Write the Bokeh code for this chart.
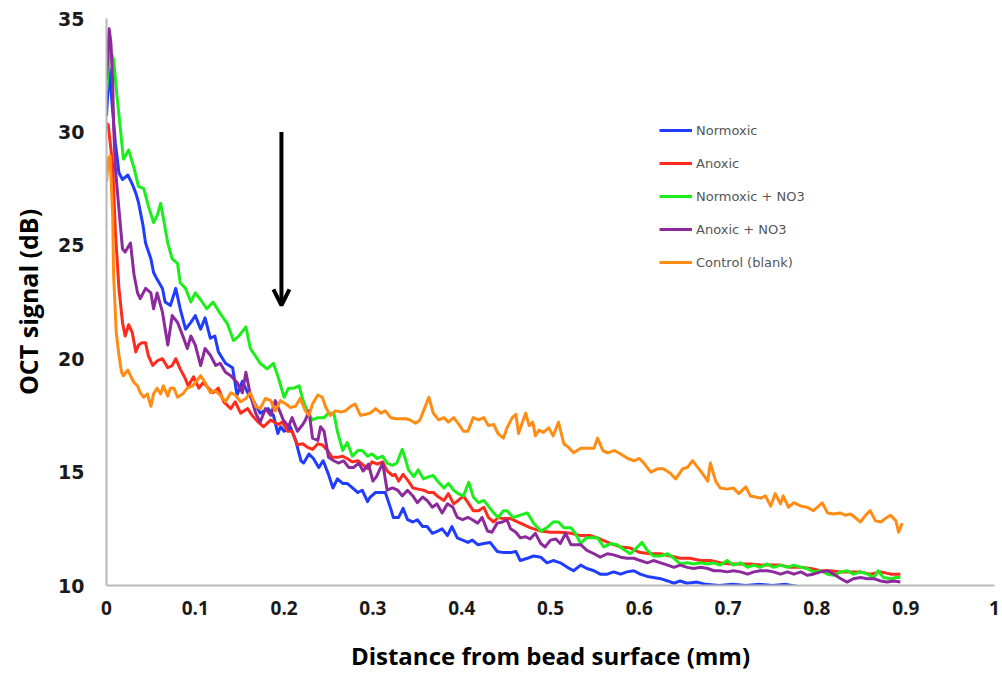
from bokeh.plotting import figure
from bokeh.models import Range1d, FixedTicker, Arrow, OpenHead, Legend, LegendItem
from bokeh.embed import file_html
from bokeh.resources import INLINE

# ---------------- data ----------------
x_ticks = [0, 0.1, 0.2, 0.3, 0.4, 0.5, 0.6, 0.7, 0.8, 0.9, 1.0]
x_tick_labels = ["0", "0.1", "0.2", "0.3", "0.4", "0.5", "0.6", "0.7", "0.8", "0.9", "1"]
y_ticks = [10, 15, 20, 25, 30, 35]

series_names = ["Normoxic", "Anoxic", "Normoxic + NO3", "Anoxic + NO3", "Control (blank)"]

normoxic_x = [0.000, 0.003, 0.010, 0.014, 0.018, 0.024, 0.029, 0.033, 0.036, 0.041, 0.044, 0.050,
              0.053, 0.057, 0.063, 0.066, 0.072, 0.078, 0.083, 0.089, 0.095, 0.100, 0.106, 0.111,
              0.117, 0.122, 0.126, 0.134, 0.142, 0.147, 0.153, 0.159, 0.166, 0.173, 0.182, 0.188,
              0.193, 0.196, 0.200, 0.207, 0.213, 0.219, 0.222, 0.228, 0.233, 0.239, 0.244, 0.250,
              0.255, 0.260, 0.266, 0.271, 0.277, 0.283, 0.288, 0.294, 0.297, 0.303, 0.309, 0.314,
              0.320, 0.323, 0.329, 0.334, 0.339, 0.345, 0.350, 0.356, 0.361, 0.367, 0.373, 0.378,
              0.384, 0.389, 0.395, 0.401, 0.407, 0.412, 0.418, 0.425, 0.432, 0.440, 0.447, 0.455,
              0.461, 0.466, 0.474, 0.481, 0.489, 0.496, 0.503, 0.511, 0.519, 0.526, 0.534, 0.541,
              0.549, 0.556, 0.564, 0.571, 0.579, 0.586, 0.594, 0.601, 0.609, 0.616, 0.624, 0.632,
              0.639, 0.646, 0.654, 0.665, 0.675, 0.690, 0.705, 0.720, 0.735, 0.750, 0.765, 0.780,
              0.800, 0.830, 0.860, 0.895]
normoxic_y = [30.7, 32.8, 29.5, 28.2, 27.9, 28.1, 27.7, 27.3, 26.9, 25.9, 25.1, 24.4,
              23.8, 23.5, 23.1, 22.5, 22.35, 23.1, 22.2, 21.3, 21.6, 21.9, 21.3, 21.8,
              20.9, 21.0, 20.3, 19.8, 19.6, 18.4, 19.0, 18.5, 18.1, 17.6, 17.8, 17.5,
              16.7, 17.0, 16.8, 17.0, 16.4, 15.5, 15.4, 15.8, 15.6, 15.2, 15.5, 14.9,
              14.3, 14.7, 14.5, 14.5, 14.3, 14.1, 14.2, 13.7, 13.9, 14.1, 14.1, 14.1,
              13.4, 13.0, 13.0, 13.4, 12.9, 12.8, 12.9, 12.6, 12.6, 12.3, 12.4, 12.5,
              12.2, 12.6, 12.1, 12.0, 11.9, 12.0, 11.8, 11.85, 11.9, 11.5, 11.45, 11.45,
              11.5, 11.1, 11.2, 11.3, 11.25, 11.0, 11.1, 11.0, 10.8, 10.65, 10.9, 10.75,
              10.65, 10.5, 10.5, 10.6, 10.5, 10.6, 10.65, 10.5, 10.4, 10.35, 10.3, 10.2,
              10.1, 10.2, 10.1, 10.15, 10.05, 10.0, 10.05, 10.0, 10.05, 10.0, 10.05, 9.95,
              9.85, 9.75, 9.7, 9.6]

anoxic_x = [0.000, 0.002, 0.007, 0.010, 0.014, 0.018, 0.021, 0.025, 0.029, 0.033, 0.036, 0.040,
            0.044, 0.047, 0.052, 0.057, 0.063, 0.069, 0.074, 0.078, 0.083, 0.089, 0.092, 0.098,
            0.104, 0.109, 0.115, 0.120, 0.126, 0.132, 0.140, 0.145, 0.151, 0.159, 0.164, 0.171,
            0.177, 0.185, 0.193, 0.198, 0.204, 0.209, 0.215, 0.221, 0.226, 0.232, 0.238, 0.243,
            0.249, 0.254, 0.260, 0.266, 0.271, 0.277, 0.283, 0.288, 0.294, 0.299, 0.305, 0.311,
            0.316, 0.322, 0.325, 0.329, 0.334, 0.340, 0.345, 0.351, 0.357, 0.363, 0.368, 0.374,
            0.380, 0.385, 0.391, 0.396, 0.402, 0.408, 0.413, 0.419, 0.425, 0.430, 0.436, 0.441,
            0.447, 0.455, 0.466, 0.477, 0.489, 0.500, 0.511, 0.523, 0.534, 0.545, 0.556, 0.568,
            0.579, 0.590, 0.601, 0.613, 0.624, 0.635, 0.646, 0.657, 0.669, 0.680, 0.691, 0.703,
            0.714, 0.725, 0.736, 0.748, 0.759, 0.770, 0.782, 0.793, 0.804, 0.815, 0.827, 0.838,
            0.849, 0.860, 0.872, 0.883, 0.894]
anoxic_y = [30.4, 30.3, 28.5, 25.6, 23.1, 21.6, 21.0, 21.5, 21.15, 20.3, 20.6, 20.7,
            20.7, 20.15, 19.7, 19.9, 20.0, 19.6, 19.7, 20.0, 19.55, 19.1, 18.8, 19.2,
            18.7, 18.95, 18.7, 18.5, 18.7, 18.1, 17.8, 18.1, 17.6, 17.8, 17.5, 17.2,
            17.0, 17.3, 17.1, 17.2, 16.8, 16.8, 16.2, 16.25, 16.1, 16.0, 16.25, 16.2,
            15.95, 15.65, 15.65, 15.7, 15.6, 15.45, 15.5, 15.35, 15.15, 15.45, 15.35, 15.45,
            15.05, 14.85, 14.9, 14.6, 14.9, 14.6, 14.3, 14.25, 14.2, 14.1, 14.1, 13.9,
            13.75, 14.05, 13.6, 13.75, 13.95, 13.6, 13.3, 13.3, 13.45, 13.0, 12.8, 13.0,
            12.95, 12.95, 12.75, 12.55, 12.4, 12.35, 12.35, 12.3, 12.2, 12.2, 12.05, 11.85,
            11.7, 11.65, 11.45, 11.4, 11.4, 11.3, 11.2, 11.2, 11.1, 11.1, 11.0, 10.95,
            10.95, 10.95, 10.9, 10.9, 10.9, 10.8, 10.8, 10.75, 10.65, 10.65, 10.6, 10.6,
            10.6, 10.5, 10.6, 10.5, 10.5]

normoxic_no3_x = [0.000, 0.004, 0.008, 0.012, 0.016, 0.019, 0.025, 0.031, 0.036, 0.042, 0.047, 0.053,
                  0.057, 0.061, 0.064, 0.069, 0.074, 0.080, 0.083, 0.089, 0.095, 0.100, 0.106, 0.113,
                  0.120, 0.128, 0.136, 0.143, 0.149, 0.157, 0.162, 0.168, 0.173, 0.181, 0.188, 0.194,
                  0.200, 0.205, 0.211, 0.217, 0.221, 0.226, 0.232, 0.238, 0.245, 0.250, 0.256, 0.260,
                  0.266, 0.271, 0.277, 0.283, 0.288, 0.294, 0.299, 0.305, 0.311, 0.316, 0.322, 0.327,
                  0.333, 0.336, 0.340, 0.346, 0.351, 0.357, 0.363, 0.368, 0.374, 0.380, 0.385, 0.391,
                  0.396, 0.402, 0.408, 0.413, 0.419, 0.425, 0.430, 0.436, 0.441, 0.447, 0.451, 0.458,
                  0.466, 0.474, 0.481, 0.489, 0.496, 0.503, 0.509, 0.515, 0.523, 0.528, 0.534, 0.540,
                  0.545, 0.553, 0.560, 0.568, 0.575, 0.582, 0.590, 0.598, 0.603, 0.609, 0.616, 0.624,
                  0.632, 0.639, 0.646, 0.654, 0.661, 0.669, 0.677, 0.684, 0.691, 0.699, 0.706, 0.714,
                  0.722, 0.729, 0.736, 0.744, 0.751, 0.759, 0.767, 0.774, 0.782, 0.789, 0.796, 0.804,
                  0.812, 0.819, 0.827, 0.834, 0.841, 0.849, 0.857, 0.864, 0.869, 0.875, 0.883, 0.889,
                  0.894]
normoxic_no3_y = [31.8, 33.6, 33.2, 31.5, 30.0, 28.8, 29.2, 28.4, 27.6, 27.5, 26.75, 26.0,
                  26.3, 26.85, 26.2, 25.1, 24.4, 24.2, 23.35, 23.1, 22.5, 22.9, 22.6, 22.2,
                  22.5, 22.0, 21.55, 20.8, 21.0, 21.4, 20.45, 20.1, 19.8, 19.55, 19.8, 19.1,
                  18.3, 18.7, 18.7, 18.8, 18.2, 17.7, 17.3, 17.4, 17.4, 17.6, 17.6, 16.8,
                  15.95, 16.3, 15.7, 15.95, 15.95, 15.7, 15.8, 15.6, 15.7, 15.4, 15.3, 15.4,
                  16.0, 15.65, 15.1, 14.8, 15.1, 14.7, 14.8, 14.85, 14.55, 14.3, 14.5, 14.2,
                  14.05, 13.95, 14.55, 13.9, 13.65, 13.75, 13.5, 13.2, 13.0, 13.3, 13.3, 13.0,
                  13.1, 13.2, 12.75, 12.4, 12.55, 12.8, 12.8, 12.55, 12.55, 12.3, 11.85, 12.1,
                  12.1, 12.1, 11.7, 11.85, 11.8, 11.6, 11.4, 11.7, 11.9, 11.55, 11.3, 11.3,
                  11.4, 11.2, 10.95, 11.0, 10.95, 11.0, 10.95, 11.0, 10.9, 11.1, 10.9, 11.0,
                  10.8, 10.9, 10.8, 10.95, 10.8, 10.9, 10.8, 10.9, 10.8, 10.75, 10.6, 10.65,
                  10.5, 10.45, 10.6, 10.65, 10.5, 10.6, 10.5, 10.35, 10.65, 10.35, 10.3, 10.35,
                  10.35]

anoxic_no3_x = [0.000, 0.003, 0.005, 0.007, 0.008, 0.010, 0.014, 0.018, 0.021, 0.027, 0.031, 0.035,
                0.038, 0.044, 0.050, 0.053, 0.057, 0.063, 0.069, 0.074, 0.080, 0.086, 0.091, 0.095,
                0.100, 0.106, 0.111, 0.117, 0.123, 0.128, 0.134, 0.140, 0.147, 0.153, 0.157, 0.162,
                0.168, 0.173, 0.179, 0.185, 0.190, 0.196, 0.199, 0.205, 0.209, 0.215, 0.221, 0.224,
                0.228, 0.232, 0.238, 0.241, 0.245, 0.250, 0.256, 0.261, 0.267, 0.273, 0.278, 0.284,
                0.289, 0.295, 0.300, 0.304, 0.311, 0.316, 0.322, 0.328, 0.333, 0.339, 0.345, 0.350,
                0.356, 0.361, 0.367, 0.372, 0.378, 0.384, 0.390, 0.395, 0.401, 0.407, 0.412, 0.418,
                0.423, 0.429, 0.434, 0.440, 0.446, 0.451, 0.455, 0.461, 0.466, 0.472, 0.477, 0.483,
                0.489, 0.494, 0.500, 0.506, 0.511, 0.517, 0.523, 0.528, 0.534, 0.541, 0.549, 0.556,
                0.564, 0.571, 0.579, 0.586, 0.594, 0.601, 0.609, 0.616, 0.624, 0.632, 0.639, 0.646,
                0.654, 0.661, 0.669, 0.677, 0.684, 0.691, 0.699, 0.706, 0.714, 0.722, 0.729, 0.736,
                0.744, 0.751, 0.759, 0.767, 0.774, 0.782, 0.789, 0.796, 0.804, 0.812, 0.819, 0.827,
                0.834, 0.841, 0.849, 0.857, 0.864, 0.872, 0.879, 0.887, 0.894]
anoxic_no3_y = [32.3, 34.55, 33.9, 32.2, 30.3, 28.4, 26.6, 24.85, 24.7, 25.1, 23.7, 22.9,
                22.65, 23.1, 22.9, 22.2, 22.9, 22.05, 20.6, 21.9, 21.6, 21.0, 20.45, 21.0,
                20.6, 19.7, 20.45, 20.15, 19.7, 19.8, 19.4, 19.25, 18.95, 18.5, 19.4, 18.4,
                17.6, 17.2, 17.8, 17.5, 18.15, 17.6, 17.3, 17.0, 17.4, 16.8, 17.1, 17.3,
                17.7, 16.5, 16.4, 17.0, 16.8, 15.65, 15.5, 15.4, 15.5, 15.2, 15.2, 15.4,
                15.05, 15.35, 14.6, 14.8, 15.4, 14.2, 14.3, 14.2, 13.95, 14.2, 13.95, 13.65,
                13.9, 13.75, 13.45, 13.6, 13.2, 13.6, 13.45, 13.0, 12.9, 13.0, 12.9, 12.75,
                13.0, 12.4, 12.35, 12.75, 12.8, 12.9, 12.5, 12.35, 12.1, 12.15, 12.05, 12.3,
                11.85, 11.7, 12.0, 12.05, 11.85, 12.3, 11.8, 11.8, 11.8, 11.55, 11.4, 11.25,
                11.4, 11.35, 11.25, 11.2, 11.2, 11.1, 11.0, 11.1, 11.0, 10.9, 10.8, 10.9,
                10.8, 10.75, 10.8, 10.75, 10.65, 10.65, 10.6, 10.65, 10.6, 10.5, 10.6, 10.65,
                10.65, 10.6, 10.5, 10.6, 10.5, 10.6, 10.45, 10.5, 10.6, 10.65, 10.5, 10.3,
                10.15, 10.3, 10.35, 10.3, 10.3, 10.2, 10.15, 10.2, 10.15]

control_x = [0.000, 0.002, 0.004, 0.007, 0.008, 0.011, 0.014, 0.017, 0.019, 0.024, 0.027, 0.031,
             0.035, 0.038, 0.042, 0.046, 0.050, 0.053, 0.057, 0.061, 0.064, 0.069, 0.072, 0.076,
             0.080, 0.086, 0.091, 0.097, 0.100, 0.106, 0.111, 0.117, 0.122, 0.128, 0.134, 0.140,
             0.145, 0.151, 0.157, 0.162, 0.168, 0.173, 0.179, 0.185, 0.190, 0.196, 0.202, 0.207,
             0.213, 0.218, 0.224, 0.228, 0.232, 0.238, 0.243, 0.247, 0.252, 0.258, 0.264, 0.269,
             0.275, 0.280, 0.286, 0.292, 0.297, 0.303, 0.309, 0.314, 0.320, 0.326, 0.331, 0.337,
             0.342, 0.348, 0.353, 0.357, 0.363, 0.368, 0.374, 0.380, 0.385, 0.391, 0.396, 0.402,
             0.407, 0.413, 0.419, 0.425, 0.430, 0.436, 0.441, 0.447, 0.451, 0.457, 0.461, 0.464,
             0.468, 0.472, 0.476, 0.480, 0.483, 0.487, 0.492, 0.498, 0.503, 0.509, 0.515, 0.520,
             0.526, 0.534, 0.543, 0.549, 0.553, 0.559, 0.564, 0.572, 0.579, 0.587, 0.594, 0.600,
             0.605, 0.613, 0.621, 0.627, 0.635, 0.641, 0.649, 0.654, 0.660, 0.666, 0.671, 0.677,
             0.680, 0.686, 0.691, 0.699, 0.706, 0.712, 0.720, 0.725, 0.731, 0.737, 0.742, 0.748,
             0.753, 0.759, 0.762, 0.768, 0.774, 0.782, 0.789, 0.796, 0.802, 0.806, 0.812, 0.819,
             0.826, 0.832, 0.838, 0.843, 0.849, 0.855, 0.860, 0.866, 0.872, 0.877, 0.883, 0.889,
             0.892, 0.896]
control_y = [27.8, 28.8, 28.95, 26.3, 23.7, 21.15, 20.15, 19.4, 19.25, 19.5, 19.25, 18.95,
             18.8, 18.5, 18.3, 18.45, 17.9, 18.45, 18.7, 18.45, 18.8, 18.35, 18.7, 18.7,
             18.3, 18.45, 18.7, 18.8, 18.95, 19.25, 18.95, 18.5, 18.6, 18.4, 18.1, 18.5,
             18.4, 18.1, 18.25, 18.5, 17.9, 17.8, 18.25, 18.15, 17.7, 18.15, 18.0, 17.85,
             17.9, 18.25, 17.7, 17.5, 18.0, 18.4, 18.3, 17.85, 17.5, 17.7, 17.65, 17.7,
             17.9, 18.0, 17.5, 17.55, 17.6, 17.8, 17.6, 17.7, 17.4, 17.35, 17.35, 17.35,
             17.3, 17.15, 17.3, 17.7, 18.3, 17.6, 17.3, 17.4, 17.2, 17.4, 17.15, 16.8,
             16.8, 17.4, 17.3, 17.4, 17.05, 17.1, 16.7, 16.5, 16.95, 17.4, 17.55, 16.7,
             17.15, 17.6, 17.05, 17.2, 16.6, 16.85, 16.75, 16.95, 16.6, 17.2, 16.25, 16.1,
             15.85, 16.05, 16.05, 16.05, 16.5, 15.95, 15.85, 15.95, 15.8, 15.6, 15.5, 15.6,
             15.4, 15.0, 15.15, 15.15, 14.95, 14.7, 15.15, 15.2, 15.5, 15.2, 14.95, 14.6,
             15.4, 14.6, 14.3, 14.25, 14.3, 14.05, 14.35, 13.95, 13.9, 13.85, 13.95, 13.5,
             14.05, 13.6, 13.95, 13.45, 13.65, 13.5, 13.45, 13.3, 13.5, 13.65, 13.2, 13.15,
             13.2, 13.1, 13.15, 13.0, 12.8, 13.1, 13.3, 12.85, 12.8, 12.95, 13.1, 12.85,
             12.35, 12.75]

series_colors = ["#1f3dff", "#ff2b1c", "#1cee1c", "#8c2a9c", "#ff8c14"]

arrow_x = 0.197
arrow_y_start = 30.0
arrow_y_end = 22.35

# ---------------- figure ----------------
p = figure(width=1002, height=675, x_range=Range1d(0, 1), y_range=Range1d(10, 35),
           output_backend="svg", toolbar_location=None,
           min_border_left=106, min_border_right=8, min_border_top=18, min_border_bottom=90)
p.grid.visible = False
p.outline_line_color = None
p.background_fill_color = "white"
p.border_fill_color = "white"

xs = [normoxic_x, anoxic_x, normoxic_no3_x, anoxic_no3_x, control_x]
ys = [normoxic_y, anoxic_y, normoxic_no3_y, anoxic_no3_y, control_y]
items = []
for name, x, y, c in zip(series_names, xs, ys, series_colors):
    r = p.line(x, y, line_width=3, line_color=c, line_join="round")
    items.append(LegendItem(label=name, renderers=[r]))

legend = Legend(items=items, location=(553, 313), glyph_width=33, glyph_height=20,
                label_standoff=4, spacing=13, padding=0, margin=0,
                border_line_color=None, background_fill_alpha=0,
                label_text_font="DejaVu Sans", label_text_font_size="13px",
                label_text_color="#555555", label_height=20)
p.add_layout(legend)

p.add_layout(Arrow(end=OpenHead(size=16, line_width=4, line_color="black"),
                   x_start=arrow_x, y_start=arrow_y_start, x_end=arrow_x, y_end=arrow_y_end,
                   line_width=4, line_color="black"))

# axes
p.xaxis.ticker = FixedTicker(ticks=x_ticks)
p.xaxis.major_label_overrides = {t: l for t, l in zip(x_ticks, x_tick_labels)}
p.yaxis.ticker = FixedTicker(ticks=y_ticks)
for ax in (p.xaxis[0], p.yaxis[0]):
    ax.axis_line_color = "#b8b8b8"
    ax.axis_line_width = 2
    ax.major_tick_line_color = None
    ax.minor_tick_line_color = None
    ax.major_tick_out = 0
    ax.major_tick_in = 0
    ax.major_label_text_font_style = "bold"
    ax.major_label_text_color = "#1a1a1a"
    ax.axis_label_text_font = "Open Sans"
    ax.axis_label_text_font_style = "bold"
    ax.axis_label_text_color = "#000000"

p.xaxis.axis_label = "Distance from bead surface (mm)"
p.xaxis.axis_label_text_font_size = "24px"
p.xaxis.major_label_text_font = "Open Sans"
p.xaxis.major_label_text_font_size = "19px"
p.xaxis.major_label_standoff = 15
p.xaxis.axis_label_standoff = 21

p.yaxis.axis_label = "OCT signal (dB)"
p.yaxis.axis_label_text_font_size = "25px"
p.yaxis.major_label_text_font = "DejaVu Sans"
p.yaxis.major_label_text_font_size = "19px"
p.yaxis.major_label_standoff = 22
p.yaxis.axis_label_standoff = 10

open("out.html", "w").write(file_html(p, INLINE))
